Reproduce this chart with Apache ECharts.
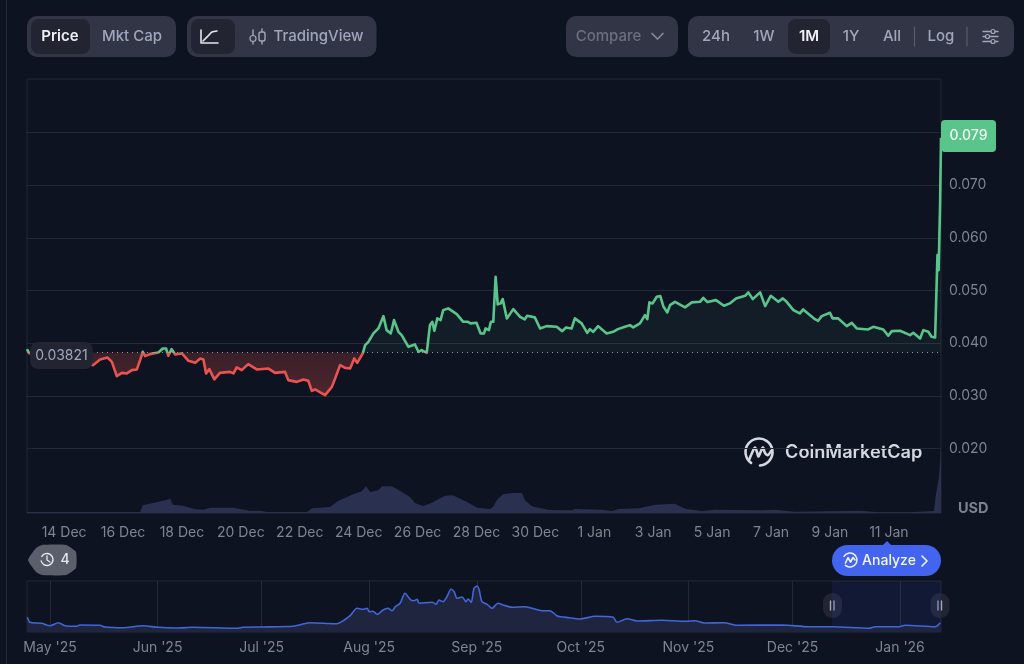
<!DOCTYPE html>
<html>
<head>
<meta charset="utf-8">
<style>
  html, body { margin: 0; padding: 0; background: #0d1320; }
  #chart { width: 1024px; height: 664px; }
</style>
<script src="https://cdn.jsdelivr.net/npm/echarts@6/dist/echarts.min.js"></script>
</head>
<body>
<div id="chart"></div>
<script>
// Days are counted from 14 Dec on the main chart and from 1 May on the overview strip.
const priceDays = [-1.26,-1.19,-0.48,0.37,0.99,1.22,1.47,1.62,1.79,1.96,2.13,2.30,2.47,2.58,2.67,2.75,2.92,3.20,3.35,3.46,3.54,3.65,3.77,4.00,4.22,4.45,4.62,4.73,4.82,4.93,5.10,5.29,5.63,5.75,5.86,6.03,6.25,6.54,6.93,7.16,7.50,7.61,7.90,8.12,8.29,8.41,8.52,8.86,9.09,9.20,9.37,9.54,9.71,9.85,9.95,10.14,10.22,10.33,10.50,10.67,10.84,10.95,11.09,11.20,11.35,11.46,11.69,11.91,12.03,12.14,12.31,12.42,12.50,12.57,12.67,12.78,12.87,13.04,13.33,13.55,13.71,13.80,14.00,14.14,14.25,14.31,14.42,14.49,14.57,14.65,14.72,14.82,14.89,15.03,15.25,15.48,15.64,15.72,15.98,16.16,16.38,16.72,16.91,17.04,17.23,17.34,17.57,17.76,17.85,17.96,18.13,18.42,18.64,18.80,19.04,19.21,19.32,19.55,19.72,19.80,19.87,19.98,20.12,20.24,20.35,20.48,20.57,20.74,21.08,21.31,21.59,21.70,21.84,22.13,22.40,22.60,22.81,23.12,23.23,23.38,23.63,23.80,23.99,24.25,24.40,24.53,24.76,24.98,25.09,25.49,25.60,25.72,26.00,26.09,26.28,26.57,26.74,26.91,27.30,27.47,27.81,27.98,28.10,28.38,28.72,28.83,29.06,29.17,29.34,29.45,29.57,29.65,29.69,29.74,29.77];
const priceValues = [0.03886,0.0381,0.03715,0.03677,0.03582,0.0369,0.03728,0.03644,0.03373,0.03435,0.03424,0.03487,0.035,0.03677,0.03835,0.03753,0.03791,0.03823,0.03899,0.03899,0.03759,0.03886,0.03785,0.03804,0.03664,0.03625,0.03709,0.0369,0.03424,0.03506,0.0331,0.03435,0.03454,0.03424,0.03538,0.03487,0.03601,0.035,0.03519,0.03435,0.03454,0.03297,0.03264,0.0331,0.03283,0.03093,0.0312,0.03011,0.03169,0.03329,0.03582,0.0353,0.03519,0.03709,0.03625,0.03804,0.03962,0.04025,0.04184,0.04279,0.04513,0.04247,0.04184,0.04437,0.04215,0.04152,0.0393,0.03975,0.03835,0.03867,0.03816,0.04342,0.04405,0.04234,0.0447,0.04437,0.04627,0.0466,0.04551,0.04405,0.04405,0.04375,0.04386,0.04184,0.04184,0.04279,0.04247,0.04405,0.04405,0.0526,0.04736,0.04755,0.04836,0.0447,0.04646,0.045,0.04451,0.04519,0.04489,0.04279,0.04323,0.0431,0.04228,0.04298,0.04279,0.0447,0.04375,0.04196,0.04266,0.04215,0.04323,0.04184,0.04215,0.04266,0.0431,0.04342,0.04298,0.04375,0.04532,0.04456,0.04774,0.04755,0.0488,0.04894,0.0469,0.04584,0.04722,0.04785,0.04679,0.04774,0.04785,0.04861,0.0478,0.04817,0.04709,0.04755,0.0485,0.04899,0.04964,0.04836,0.04964,0.04703,0.04899,0.04785,0.0485,0.04785,0.04627,0.04565,0.04641,0.04456,0.04424,0.04513,0.04576,0.0447,0.0447,0.04323,0.04386,0.04279,0.0426,0.0431,0.0426,0.04139,0.04228,0.04234,0.04152,0.04196,0.04089,0.04247,0.04215,0.0412,0.04108,0.05673,0.05388,0.06662,0.079];
const basePrice = 0.03821;
const lastPrice = 0.079;

const volumeDays = [-1.26,2.58,2.67,3.02,3.43,3.60,3.70,4.04,4.45,4.72,4.96,5.74,6.31,6.65,6.89,8.25,8.42,9.03,9.30,9.81,10.11,10.25,10.39,10.66,10.79,11.13,11.47,11.74,11.91,12.18,12.49,12.93,13.20,13.68,14.02,14.46,14.56,14.70,14.90,15.20,15.54,15.65,15.88,16.46,17.24,17.34,18.26,18.60,18.84,19.52,20.06,20.74,21.08,21.65,22.10,23.69,24.13,24.81,26.51,27.02,27.66,28.68,29.53,29.60,29.70,29.77];
const volumeValues = [1,1,7.7,10,12.7,14.3,8.3,7.3,3.7,3.3,5.3,5.3,2.3,2.3,1,1,4.7,6,12,18.7,21.7,26.7,21,22.7,26.7,26.7,21,16,10,7,10.3,17.3,17.7,11,5.3,4,6,13.3,18.7,20,20,12.7,6.7,3,2.7,4,3.3,2,4,4.7,8.3,9.3,4.3,2,3.3,2.7,3.3,1.3,2,2.3,0.7,0.7,2,19,36,66];

const overviewDays = [-6.54,-5.77,-2.39,0,2.39,4.32,7.7,8.65,14.41,15.85,21.04,26.81,31.13,36.61,41.22,53.9,55.6,61.1,70,72.1,75,82.7,84.5,86.5,88.5,90.2,91.4,92,93.1,94.3,96,97.4,98.6,99.5,100.9,102.3,103.8,104.9,105.8,106.4,110.1,111.3,112.1,113.3,114.4,115.6,116.5,117.3,118.8,119.9,120.5,121.4,122.2,123.1,123.7,124.5,126,127.4,129.1,130.6,133.2,136.9,138.9,141.8,144.1,146.2,149.6,152.8,157.1,162.3,163.4,166.3,169.2,176.4,183,185.9,188.5,194.3,198,211,218.8,225.4,236.1,237.8,244.7,246.5,255.1,256.6];
const overviewValues = [14.7,9.7,8.7,6.3,9.3,6.3,5.7,7,6.7,5,4.3,6.3,4.7,4,4.7,3.7,4.7,5,5.7,7.3,9.3,8.3,11.3,16.3,23.7,22.7,23.7,20.3,20.7,17.7,22,23.7,21.3,25.3,28.7,38.7,32.7,31.3,32.7,28.7,29.7,27.7,32,30.3,35.3,42.7,40.3,33.7,35,30.3,33,29.7,43.7,46,42,30.3,27.7,23.7,28.7,27,24.7,25.3,23.7,21.3,21.3,16,14.3,13,15.7,14.7,9.7,13.3,11,11.7,10.7,11.3,9,9.3,6.7,7,5.3,5.3,3.7,5.3,5.3,6.7,5.3,9.3];

const dayTicks = [0,2,4,6,8,10,12,14,16,18,20,22,24,26,28];
const dayLabels = ['14 Dec','16 Dec','18 Dec','20 Dec','22 Dec','24 Dec','26 Dec','28 Dec','30 Dec','1 Jan','3 Jan','5 Jan','7 Jan','9 Jan','11 Jan'];
const priceTicks = [0.02,0.03,0.04,0.05,0.06,0.07];
const monthTicks = [0,31,61,92,123,153,184,214,245];
const monthLabels = ["May '25","Jun '25","Jul '25","Aug '25","Sep '25","Oct '25","Nov '25","Dec '25","Jan '26"];
const selectionStart = 225.4;

const dayMin = -1.26, dayMax = 29.77;
const overviewMin = -6.63, overviewMax = 256.8;

const font = 'Inter';
const BG = '#0d1320', RULE = '#252935', PILL = '#323546', ACTIVE = '#222531';
const MUTED = '#80848f', PILLTEXT = '#a1a7bb', GREEN = '#5ac58b', RED = '#ea5350';

const zip = (xs, ys) => xs.map((x, i) => [x, ys[i]]);

// Toolbar, badges and logo helpers
const box = (x, y, w, h, r, fill) => ({ type: 'rect', shape: { x, y, width: w, height: h, r }, style: { fill }, silent: true });
const label = (x, y, text, fill, size, weight, align) => ({
  type: 'text', x, y, silent: true,
  style: { text, fill, font: `${weight || 500} ${size || 15}px ${font}`, textAlign: align || 'center', textVerticalAlign: 'middle' }
});
const stroke = (points, color, width, smooth) => ({
  type: 'polyline', shape: { points, smooth: smooth || 0 }, silent: true,
  style: { stroke: color, lineWidth: width || 1.5, fill: 'none', lineCap: 'round', lineJoin: 'round' }
});
const ring = (cx, cy, r, a0, a1, color, width) => ({
  type: 'arc', shape: { cx, cy, r, startAngle: a0, endAngle: a1 }, silent: true,
  style: { stroke: color, lineWidth: width, fill: 'none', lineCap: 'round' }
});
const dot = (cx, cy, r, fill, line) => ({
  type: 'circle', shape: { cx, cy, r }, silent: true,
  style: { fill, stroke: line || null, lineWidth: 1.2 }
});

const chrome = [
  stroke([[6.5, 0], [6.5, 664]], RULE, 1),

  box(27, 16, 149, 41, 10, PILL), box(31, 19, 59, 35, 8, ACTIVE),
  label(60, 36.5, 'Price', '#eef0f5', 15, 600),
  label(132, 36.5, 'Mkt Cap', PILLTEXT, 15, 500),

  box(187, 16, 189.5, 41, 10, PILL), box(191, 19, 44, 35, 8, ACTIVE),
  stroke([[201, 30], [201, 43], [218, 43]], '#e4e6ec', 1.6),
  stroke([[203, 41], [209, 35], [212, 32], [217, 31]], '#e4e6ec', 1.6, 0.3),
  stroke([[253, 30], [253, 44]], PILLTEXT, 1.4), dot(253, 38.5, 3, PILL, PILLTEXT),
  stroke([[262, 29], [262, 44]], PILLTEXT, 1.4), box(259, 32, 6, 9, 2, PILL),
  { type: 'rect', shape: { x: 259, y: 32, width: 6, height: 9, r: 2 }, style: { fill: 'none', stroke: PILLTEXT, lineWidth: 1.4 }, silent: true },
  label(318.5, 36.5, 'TradingView', PILLTEXT, 15, 500),

  box(566, 16, 112, 41, 10, PILL),
  label(608.5, 36.5, 'Compare', '#6b6f7f', 15, 500),
  stroke([[652, 33.5], [657.5, 39], [663, 33.5]], '#858a9a', 1.7),

  box(688, 16, 326, 41, 10, PILL), box(788, 19, 42, 35, 8, ACTIVE),
  label(716, 36.5, '24h', PILLTEXT, 15, 500),
  label(764, 36.5, '1W', PILLTEXT, 15, 500),
  label(809, 36.5, '1M', '#eef0f5', 15, 600),
  label(851, 36.5, '1Y', PILLTEXT, 15, 500),
  label(892, 36.5, 'All', PILLTEXT, 15, 500),
  stroke([[914.5, 27], [914.5, 46]], '#585c6c', 1.2),
  label(941, 36.5, 'Log', PILLTEXT, 15, 500),
  stroke([[967, 27], [967, 46]], '#585c6c', 1.2),
  stroke([[983, 31.5], [998, 31.5]], PILLTEXT, 1.3), dot(993, 31.5, 2, PILL, PILLTEXT),
  stroke([[983, 36.5], [998, 36.5]], PILLTEXT, 1.3), dot(987.5, 36.5, 2, PILL, PILLTEXT),
  stroke([[983, 41.5], [998, 41.5]], PILLTEXT, 1.3), dot(993, 41.5, 2, PILL, PILLTEXT),

  label(958, 508.5, 'USD', '#7d818d', 14.5, 700, 'left'),

  // CoinMarketCap mark and wordmark, on a patch of background so the gridline stays out of the letters
  box(744, 437, 180, 32, 0, BG),
  ring(759, 452, 13.5, 2.2, 2.05 + Math.PI * 2 - 0.55, '#d5d8e0', 2.6),
  stroke([[749, 460], [752, 453], [755, 447.5], [757, 452], [758.5, 456.5], [761, 451], [763, 447.5], [765, 453], [768, 455], [771, 451]], '#d5d8e0', 2.6, 0.3),
  label(785, 452.5, 'CoinMarketCap', '#d5d8e0', 18.2, 600, 'left'),

  // Event-count tag
  { type: 'polygon', shape: { points: [[28, 560], [36, 548], [42, 545], [66, 545], [76, 552], [76, 568], [66, 575], [42, 575], [36, 572]], smooth: 0.15 }, style: { fill: '#5b5e6b' }, silent: true },
  ring(47, 559.5, 6, -2.6, 2.9, '#e6e8ee', 1.4),
  stroke([[47, 556], [47, 560], [50, 562]], '#e6e8ee', 1.3),
  label(65, 560, '4', '#e6e8ee', 14, 500),

  // Analyze button
  { type: 'polygon', shape: { points: [[882, 546], [887, 541], [892, 546]] }, style: { fill: '#4264ee' }, silent: true },
  box(832, 545, 109, 31, 15.5, '#4264ee'),
  ring(850, 560, 7, -2.6, 2.3, '#f0f3ff', 1.5),
  stroke([[845.5, 563], [848, 557.5], [850.5, 562], [853, 557.5], [855, 560]], '#f0f3ff', 1.6),
  label(889, 561, 'Analyze', '#f4f6ff', 14, 500),
  stroke([[922, 556], [927, 561], [922, 566]], '#f4f6ff', 1.6),

  // Overview range handles
  box(823, 593, 19, 25, 9, '#222531'),
  stroke([[830.5, 601], [830.5, 610]], '#a1a7bb', 1.4), stroke([[834, 601], [834, 610]], '#a1a7bb', 1.4),
  box(930.5, 593, 19, 25, 9, '#222531'),
  stroke([[938, 601], [938, 610]], '#a1a7bb', 1.4), stroke([[941.5, 601], [941.5, 610]], '#a1a7bb', 1.4)
];

const hiddenValueAxis = (gridIndex, min, max) => ({
  type: 'value', gridIndex, min, max, scale: true, show: false, splitLine: { show: false }
});

const option = {
  backgroundColor: BG,
  animation: false,
  textStyle: { fontFamily: font },
  grid: [
    { left: 27, width: 914, top: 80, height: 421 },
    { left: 27, width: 914, top: 79, height: 434, show: true, borderColor: RULE, borderWidth: 1, backgroundColor: 'transparent' },
    { left: 27, width: 914, top: 581, height: 51, show: true, borderColor: RULE, borderWidth: 1, backgroundColor: 'transparent' }
  ],
  xAxis: [
    hiddenValueAxis(0, dayMin, dayMax),
    {
      type: 'value', gridIndex: 1, min: dayMin, max: dayMax,
      axisLine: { show: false }, axisTick: { show: false }, splitLine: { show: false },
      axisLabel: {
        customValues: dayTicks, color: MUTED, fontSize: 14, fontFamily: font, margin: 13,
        formatter: v => dayLabels[dayTicks.indexOf(v)]
      }
    },
    {
      type: 'value', gridIndex: 2, min: overviewMin, max: overviewMax,
      axisLine: { show: false }, splitLine: { show: false },
      axisTick: { show: true, customValues: monthTicks, inside: true, length: 51, lineStyle: { color: RULE, width: 1 } },
      axisLabel: {
        customValues: monthTicks, color: MUTED, fontSize: 14, fontFamily: font, margin: 9,
        formatter: v => monthLabels[monthTicks.indexOf(v)]
      }
    }
  ],
  yAxis: [
    {
      type: 'value', gridIndex: 0, position: 'right', min: 0.01, max: 0.09, interval: 0.01,
      axisLine: { show: false }, axisTick: { show: false },
      splitLine: { show: true, showMinLine: false, showMaxLine: false, lineStyle: { color: RULE, width: 1 } },
      axisLabel: {
        customValues: priceTicks, color: MUTED, fontSize: 14, fontFamily: font, margin: 8, padding: [4, 0, 0, 0],
        formatter: v => v.toFixed(3)
      }
    },
    hiddenValueAxis(1, 0, 434),
    hiddenValueAxis(2, 0, 51)
  ],
  visualMap: {
    show: false, type: 'piecewise', seriesIndex: 3, dimension: 1,
    pieces: [{ min: 0, max: basePrice, color: RED }, { min: basePrice, max: 1, color: GREEN }]
  },
  series: [
    {
      name: 'Volume', type: 'line', xAxisIndex: 1, yAxisIndex: 1, symbol: 'none', z: 1,
      data: zip(volumeDays, volumeValues),
      lineStyle: { width: 0 }, areaStyle: { color: '#2a3050', opacity: 1 }
    },
    {
      name: 'Above start', type: 'line', xAxisIndex: 0, yAxisIndex: 0, symbol: 'none', z: 2,
      data: zip(priceDays, priceValues.map(v => Math.max(v, basePrice))),
      lineStyle: { width: 0 },
      areaStyle: { origin: basePrice, color: 'rgba(90,197,139,0.09)' },
      markLine: {
        silent: true, symbol: 'none', precision: 5, label: { show: false },
        lineStyle: { color: '#8f94a3', type: [1, 4], width: 1 },
        data: [{ yAxis: basePrice }]
      }
    },
    {
      name: 'Below start', type: 'line', xAxisIndex: 0, yAxisIndex: 0, symbol: 'none', z: 2,
      data: zip(priceDays, priceValues.map(v => Math.min(v, basePrice))),
      lineStyle: { width: 0 },
      areaStyle: {
        origin: basePrice,
        color: { type: 'linear', x: 0, y: 0, x2: 0, y2: 1, colorStops: [
          { offset: 0, color: 'rgba(234,83,80,0.28)' }, { offset: 1, color: 'rgba(234,83,80,0.42)' }
        ] }
      }
    },
    {
      name: 'Price', type: 'line', xAxisIndex: 0, yAxisIndex: 0, symbol: 'none', z: 3, clip: false,
      data: zip(priceDays, priceValues),
      lineStyle: { width: 2.6, join: 'round' },
      markPoint: {
        silent: true, symbol: 'rect', symbolSize: 0, itemStyle: { color: 'transparent' },
        data: [
          {
            coord: [dayMax, lastPrice],
            label: {
              show: true, position: 'inside', offset: [27.5, -2], formatter: lastPrice.toFixed(3),
              width: 55, height: 32, lineHeight: 32, align: 'center',
              backgroundColor: GREEN, borderRadius: 4, color: '#f2fbf6', fontSize: 14, fontWeight: 500, fontFamily: font
            }
          },
          {
            coord: [dayMin, basePrice],
            label: {
              show: true, position: 'inside', offset: [34.5, 3], formatter: String(basePrice),
              width: 63, height: 27, lineHeight: 27, align: 'center',
              backgroundColor: '#222531', borderRadius: 8, color: PILLTEXT, fontSize: 14, fontFamily: font
            }
          }
        ]
      }
    },
    {
      name: 'Overview', type: 'line', xAxisIndex: 2, yAxisIndex: 2, symbol: 'none', z: 2, smooth: 0.25,
      data: zip(overviewDays, overviewValues),
      lineStyle: { color: '#4066d8', width: 1.6 },
      areaStyle: { color: '#20253f', opacity: 1 },
      markArea: {
        silent: true, itemStyle: { color: 'rgba(52,62,170,0.16)' },
        data: [[{ xAxis: selectionStart, yAxis: 0 }, { xAxis: overviewMax, yAxis: 51 }]]
      }
    }
  ],
  graphic: { elements: chrome }
};

echarts.init(document.getElementById('chart'), null, { renderer: 'canvas' }).setOption(option);
</script>
</body>
</html>
